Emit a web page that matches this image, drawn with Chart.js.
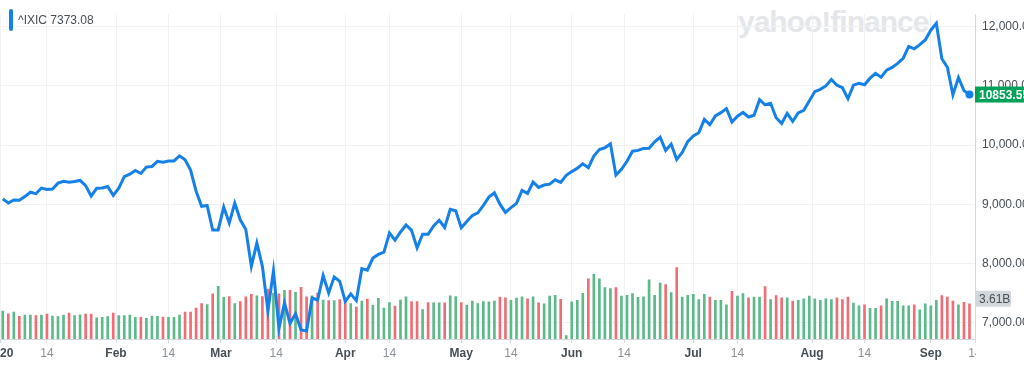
<!DOCTYPE html>
<html lang="en">
<head>
    <meta charset="UTF-8">
    <title>^IXIC</title>
    <style>
        html, body {
            margin: 0;
            padding: 0;
            background: #fff;
            overflow: hidden;
        }
        body {
            width: 1024px;
            height: 366px;
            position: relative;
            font-family: "Helvetica Neue", Helvetica, Arial, sans-serif;
        }
        .watermark {
            position: absolute;
            left: 738px;
            top: 5px;
            font-size: 30px;
            font-weight: bold;
            letter-spacing: -1px;
            color: #e4e6e9;
            white-space: nowrap;
        }
        #wrap {
            position: absolute;
            left: -20px;
            top: 0;
            width: 1100px;
            height: 366px;
        }
        .legend {
            position: absolute;
            left: 9px;
            top: 9px;
            height: 22px;
            display: flex;
            align-items: center;
            font-size: 12px;
            color: #464e56;
        }
        .legend .swatch {
            width: 4px;
            height: 22px;
            border-radius: 2px;
            background: #1580e8;
            margin-right: 5px;
        }
    </style>
</head>
<body>
    <div class="watermark">yahoo!finance</div>
    <div id="wrap"><canvas id="chart" width="1100" height="366"></canvas></div>
    <div class="legend"><span class="swatch"></span><span id="legendText"></span></div>

    <script src="https://cdn.jsdelivr.net/npm/chart.js"></script>
    <script>
        // trading calendar, Jan 2 - Sep 11 2020
        const holidays = ['2020-01-20', '2020-02-17', '2020-04-10', '2020-05-25', '2020-07-03', '2020-09-07'];
        const tradingDays = [];
        for (let d = new Date(Date.UTC(2020, 0, 2)); d <= new Date(Date.UTC(2020, 8, 11)); d.setUTCDate(d.getUTCDate() + 1)) {
            const s = d.toISOString().slice(0, 10);
            if (d.getUTCDay() !== 0 && d.getUTCDay() !== 6 && !holidays.includes(s)) tradingDays.push(s);
        }

        // daily close
        const closes = [
            9092.19, 9020.77, 9071.47, 9068.58, 9129.24, 9203.43, 9178.86, 9273.93, 9251.33, 9258.70, 9357.13,
            9388.94, 9370.81, 9383.77, 9402.48, 9314.91, 9139.31, 9269.68, 9275.16, 9298.93, 9150.94,
            9273.40, 9467.97, 9508.68, 9572.15, 9520.51, 9628.39, 9638.94, 9725.96, 9711.97, 9731.18,
            9732.74, 9817.18, 9750.97, 9576.59, 9221.28, 8965.61, 8980.77, 8566.48, 8567.37,
            8952.16, 8684.09, 9018.09, 8738.59, 8575.62, 7950.68, 8344.25, 7952.05, 7201.80, 7874.88, 6904.59,
            7334.78, 6989.84, 7150.58, 6879.52, 6860.67, 7417.86, 7384.30, 7797.54, 7502.38, 7774.15, 7700.10,
            7360.58, 7487.31, 7373.08, 7913.24, 7887.26, 8090.90, 8153.58, 8192.42, 8515.74, 8393.18, 8532.36,
            8650.14, 8560.73, 8263.23, 8495.38, 8494.75, 8634.52, 8730.16, 8607.73, 8914.71, 8889.55,
            8604.95, 8710.71, 8809.12, 8854.39, 8979.66, 9121.32, 9192.34, 9002.55, 8863.17, 8943.72,
            9014.56, 9234.83, 9185.10, 9375.78, 9284.88, 9324.59, 9340.22, 9412.36, 9368.99, 9489.87,
            9552.05, 9608.38, 9682.91, 9615.81, 9814.08, 9924.75, 9953.75, 10020.35, 9492.73, 9588.81, 9726.02,
            9895.87, 9910.53, 9943.05, 9946.12, 10056.48, 10131.37, 9909.17, 10017.00, 9757.22, 9874.15, 10058.77,
            10154.63, 10207.63, 10433.65, 10343.89, 10492.50, 10547.75, 10617.44, 10390.84, 10488.58, 10550.49, 10473.83,
            10503.19, 10767.09, 10680.36, 10706.13, 10461.42, 10363.18, 10536.27, 10402.09, 10542.94, 10587.81, 10745.27,
            10902.80, 10941.17, 10998.40, 11108.07, 11010.98, 10968.36, 10782.82, 11012.24, 11042.50, 11019.30, 11129.73,
            11210.84, 11146.46, 11264.95, 11311.80, 11379.72, 11466.47, 11665.06, 11625.34, 11695.63, 11775.46,
            11939.67, 12056.44, 11458.10, 11313.13, 10847.69, 11141.56, 10919.59, 10853.55
        ];

        // daily volume, billions
        const volumes = [
            2.85, 2.59, 2.75, 2.33, 2.46, 2.46, 2.39, 2.46, 2.56, 2.36, 2.29, 2.46, 2.65, 2.39, 2.49, 2.56, 2.56, 2.16, 2.23, 2.29, 2.65,
            2.39, 2.39, 2.46, 2.23, 2.23, 2.13, 2.36, 2.33, 2.26, 2.23, 2.23, 2.46, 2.75, 2.75, 3.18, 3.64, 3.54, 4.62, 5.41,
            4.26, 4.36, 3.64, 3.83, 4.33, 4.59, 4.42, 4.36, 5.11, 4.72, 4.62, 4.99, 4.99, 4.79, 5.31, 4.33, 4.42, 4.72, 4.00, 3.93, 3.93, 4.03,
            4.03, 3.64, 3.27, 3.90, 4.10, 3.47, 4.16, 3.18, 3.74, 3.37, 4.00, 4.33, 3.83, 3.83, 3.02, 3.74, 3.71, 3.71, 3.71, 4.42, 4.36,
            3.74, 3.47, 3.90, 3.64, 3.83, 3.81, 3.90, 4.30, 4.23, 3.96, 4.20, 4.33, 4.13, 4.33, 3.71, 3.61, 4.40, 4.49, 4.06, 0.36,
            3.81, 3.96, 4.69, 6.17, 6.62, 6.17, 5.28, 5.18, 5.28, 4.40, 4.49, 4.65, 4.26, 4.33, 6.07, 4.49, 5.73, 5.58, 4.75, 7.31, 4.30, 4.49,
            4.59, 4.03, 4.59, 4.30, 3.96, 3.96, 3.51, 4.89, 4.40, 4.65, 4.23, 4.30, 4.30, 5.38, 4.03, 4.45, 4.23, 4.23, 3.90, 3.96, 4.13, 4.40,
            4.13, 3.96, 4.13, 4.03, 4.23, 4.03, 4.30, 3.67, 3.41, 3.51, 3.15, 3.15, 3.41, 4.13, 3.86, 3.86, 3.41, 3.41, 3.51, 2.98, 3.61,
            3.41, 3.96, 4.45, 4.30, 3.90, 3.51, 3.77, 3.61
        ];

        // volume bar colour: u = up day, d = down day
        const volDir = (
            'udud uudu duuu duud duuu d' +
            'uuuu duuu duuu dddd udu' +
            'udud ddud dudu dudd udud ud' +
            'dudu duuu uduu ddud uudu u' +
            'duuu uuud duuu dudu uudu' +
            'uuud uuuu duuu uuuu udud uu' +
            'uuud uuud uudu udud dudu uu' +
            'uuuu dddu uduu duuu uudu u' +
            'uudd dudd'
        ).replace(/ /g, '').split('');

        const priceTicks = [7000, 8000, 9000, 10000, 11000, 12000];
        const xTickDates = ['2020-01-01', '2020-01-14', '2020-02-01', '2020-02-14', '2020-03-01', '2020-03-14',
            '2020-04-01', '2020-04-14', '2020-05-01', '2020-05-14', '2020-06-01', '2020-06-14',
            '2020-07-01', '2020-07-14', '2020-08-01', '2020-08-14', '2020-09-01', '2020-09-14'];
        const xTickLabels = ['2020', '14', 'Feb', '14', 'Mar', '14', 'Apr', '14', 'May', '14', 'Jun', '14',
            'Jul', '14', 'Aug', '14', 'Sep', '14'];

        // index of a calendar date on the trading-day axis (non-trading days fall between sessions)
        function dayPos(s) {
            const i = tradingDays.findIndex(t => t >= s);
            if (i < 0) return tradingDays.length;
            return tradingDays[i] === s ? i : i - 0.5;
        }
        const isMonth = i => xTickLabels[i] !== '14';
        const last = closes.length - 1;

        document.getElementById('legendText').textContent = '^IXIC ' + closes[tradingDays.indexOf('2020-04-03')].toFixed(2);

        const FONT = '"Helvetica Neue", Helvetica, Arial, sans-serif';
        Chart.defaults.font.family = FONT;

        const tagPlugin = {
            id: 'tags',
            afterDraw(chart) {
                const { ctx, chartArea, scales } = chart;
                ctx.save();
                // right panel hides the overflow of the last date label
                ctx.fillStyle = '#fff';
                ctx.fillRect(chartArea.right + 1, chartArea.bottom + 1, chart.width, chart.height);

                // last price tag
                const py = scales.y.getPixelForValue(closes[last]);
                ctx.fillStyle = '#00a25a';
                ctx.fillRect(chartArea.right, py - 8, 68, 16);
                ctx.fillStyle = '#fff';
                ctx.font = 'bold 12px ' + FONT;
                ctx.textBaseline = 'middle';
                ctx.fillText(closes[last].toFixed(2), chartArea.right + 4, py + 1);

                // last volume tag
                const vy = scales.vol.getPixelForValue(volumes[last]) - 5;
                ctx.fillStyle = '#d3d7db';
                ctx.beginPath();
                ctx.roundRect(chartArea.right, vy - 8, 36, 16, 2);
                ctx.fill();
                ctx.fillStyle = '#464e56';
                ctx.font = '12px ' + FONT;
                ctx.fillText(volumes[last].toFixed(2) + 'B', chartArea.right + 4, vy + 1);
                ctx.restore();
            }
        };

        new Chart(document.getElementById('chart'), {
            data: {
                datasets: [
                    {
                        type: 'line',
                        label: '^IXIC',
                        data: closes.map((v, i) => ({ x: i, y: v })),
                        yAxisID: 'y',
                        borderColor: '#1580e8',
                        borderWidth: 3,
                        tension: 0,
                        pointRadius: c => c.dataIndex === last ? 4 : 0,
                        pointBackgroundColor: '#1580e8',
                        pointBorderWidth: 0,
                        order: 0
                    },
                    {
                        type: 'bar',
                        label: 'Volume',
                        data: volumes.map((v, i) => ({ x: i, y: v })),
                        yAxisID: 'vol',
                        backgroundColor: volDir.map(d => d === 'u' ? '#5bb98a' : '#ef6d74'),
                        barThickness: 2,
                        order: 1
                    }
                ]
            },
            options: {
                responsive: false,
                animation: false,
                devicePixelRatio: 1,
                layout: { padding: { left: 20, right: 0, top: 0, bottom: 0 } },
                plugins: { legend: { display: false }, tooltip: { enabled: false } },
                scales: {
                    x: {
                        type: 'linear',
                        offset: false,
                        min: dayPos(xTickDates[0]),
                        max: dayPos(xTickDates[xTickDates.length - 1]),
                        afterBuildTicks: s => { s.ticks = xTickDates.map(d => ({ value: dayPos(d) })); },
                        afterFit: s => { s.height = 27; },
                        ticks: {
                            autoSkip: false,
                            maxRotation: 0,
                            padding: 3,
                            callback: (v, i) => xTickLabels[i],
                            color: c => isMonth(c.index) ? '#464e56' : '#8b9299',
                            font: c => ({ size: 12, weight: isMonth(c.index) ? 'bold' : 'normal' })
                        },
                        grid: { offset: false, color: '#f0f1f2', tickColor: '#d5d8db', tickLength: 4 },
                        border: { color: '#d5d8db' }
                    },
                    y: {
                        type: 'linear',
                        position: 'right',
                        min: 6725,
                        max: 12210,
                        afterBuildTicks: s => { s.ticks = priceTicks.map(v => ({ value: v })); },
                        afterFit: s => { s.width = 105; },
                        ticks: {
                            padding: 7,
                            color: '#464e56',
                            font: { size: 12 },
                            callback: v => v.toLocaleString('en-US', { minimumFractionDigits: 2, maximumFractionDigits: 2 })
                        },
                        grid: { color: '#f0f1f2', drawTicks: false },
                        border: { color: '#d5d8db' }
                    },
                    vol: {
                        type: 'linear',
                        display: false,
                        min: 0,
                        max: 33.3
                    }
                }
            },
            plugins: [tagPlugin]
        });
    </script>
</body>
</html>
